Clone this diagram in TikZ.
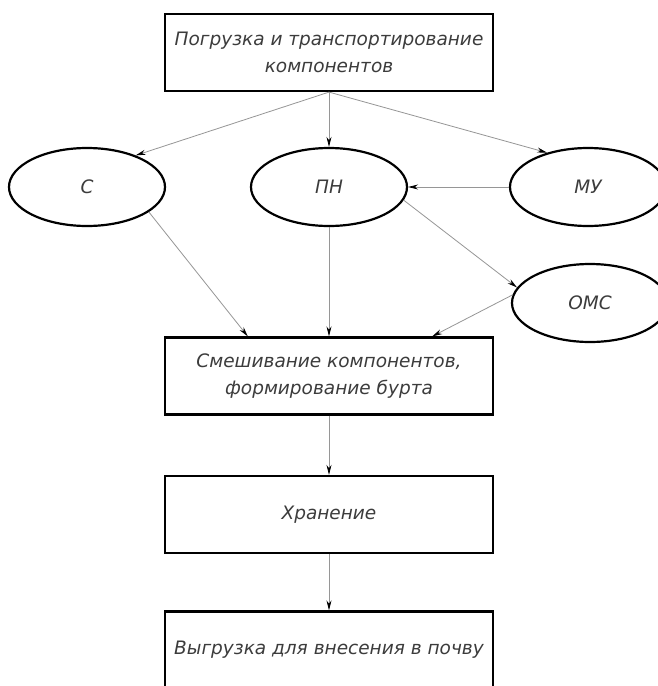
\documentclass[tikz,border=0pt]{standalone}
\usepackage{fontspec}
\setmainfont{DejaVu Sans}
\usetikzlibrary{arrows.meta,shapes.geometric}
\definecolor{txt}{RGB}{60,60,60}
\definecolor{ln}{RGB}{150,150,150}
\tikzset{
  box/.style={draw=black, line width=2.2pt, minimum width=328pt, minimum height=77pt, inner sep=0pt, align=center, text=txt, font=\itshape\fontsize{18.5}{27}\selectfont},
  oval/.style={ellipse, draw=black, line width=2.2pt, minimum width=156pt, minimum height=78pt, inner sep=0pt, text=txt, font=\itshape\fontsize{18.5}{20}\selectfont},
  conn/.style={draw=ln, line width=0.8pt, -{Stealth[length=10pt,width=5pt,color=black]}}
}
\begin{document}
\begin{tikzpicture}[x=1pt,y=-1pt]
\useasboundingbox[fill=white] (0,0) rectangle (658,686);
\node[box] (top) at (329,52.5) {Погрузка и транспортирование\\компонентов};
\node[oval] (C) at (87,187) {С};
\node[oval] (PN) at (329,187) {ПН};
\node[oval] (MU) at (588,187) {МУ};
\node[oval] (OMC) at (590,303) {ОМС};
\node[box] (mix) at (329,376) {Смешивание компонентов,\\формирование бурта};
\node[box] (store) at (329,514.5) {Хранение};
\node[box] (unload) at (329,650) {Выгрузка для внесения в почву};
\draw[conn] (top.south) -- (C.33);
\draw[conn] (top.south) -- (PN.north);
\draw[conn] (top.south) -- (MU.140);
\draw[conn] (MU.west) -- (PN.east);
\draw[conn] (PN.-10) -- (OMC.168);
\draw[conn] (C.-22) -- (mix.154);
\draw[conn] (PN.south) -- (mix.north);
\draw[conn] (OMC.174) -- (mix.21);
\draw[conn] (mix.south) -- (store.north);
\draw[conn] (store.south) -- (unload.north);
\end{tikzpicture}
\end{document}
